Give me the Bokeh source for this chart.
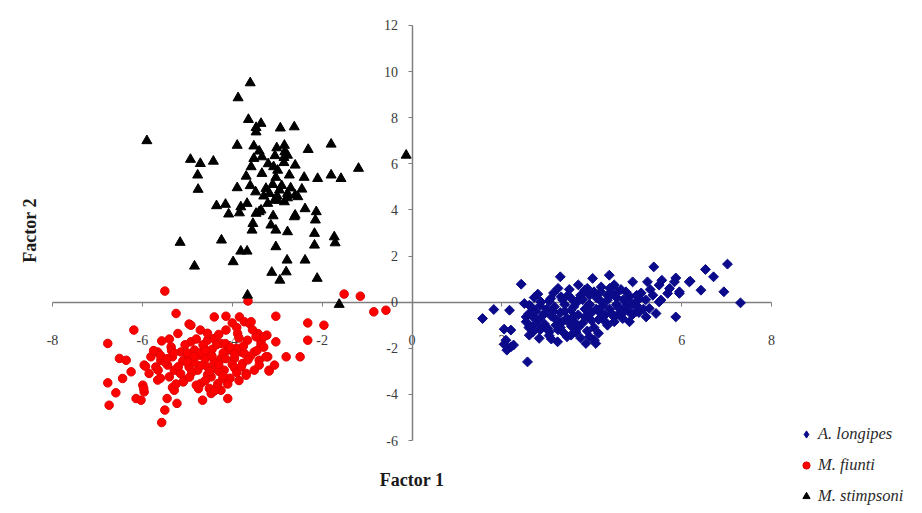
import math
from bokeh.plotting import figure
from bokeh.models import (LinearAxis, FixedTicker, Range1d, Legend, LegendItem, ColumnDataSource, Label)
from bokeh.embed import file_html
from bokeh.resources import INLINE

# ---------------- data ----------------
x_ticks = [-8, -6, -4, -2, 0, 2, 4, 6, 8]
x_tick_labels = ["-8", "-6", "-4", "-2", "0", "2", "4", "6", "8"]
y_ticks = [-6, -4, -2, 0, 2, 4, 6, 8, 10, 12]
y_tick_labels = ["-6", "-4", "-2", "0", "2", "4", "6", "8", "10", "12"]

x_title = "Factor 1"
y_title = "Factor 2"
series_names = ["A. longipes", "M. fiunti", "M. stimpsoni"]

longipes_x = [1.57, 1.82, 2.17, 2.05, 2.20, 2.09, 2.20, 2.43, 2.57, 2.50, 2.54, 2.65, 2.61, 3.30, 2.87,
              2.94, 2.91, 3.06, 3.17, 3.24, 3.32, 3.39, 3.54, 3.61, 3.69, 3.84, 3.87, 4.06, 4.02, 4.39,
              4.21, 3.91, 4.13, 4.35, 4.50, 4.58, 4.80, 4.91, 5.02, 5.21, 5.24, 5.38, 5.50, 5.54, 5.69,
              5.84, 5.95, 5.87, 6.17, 6.43, 6.53, 6.71, 6.94, 7.02, 7.31,
              2.05, 2.26, 2.11, 2.61, 2.54, 2.69, 2.83, 3.09, 3.02, 3.24, 3.47, 3.54, 4.09, 4.35,
              5.56, 5.87, 6.19, 5.36, 5.73, 5.95, 5.50, 4.76, 5.06, 5.28, 4.98, 4.69, 4.84, 5.43,
              2.75, 2.80, 3.00, 3.10, 3.20, 3.30, 3.40, 3.45, 3.55, 3.60, 3.70, 3.75, 3.80, 3.85,
              3.95, 4.00, 4.05, 4.10, 4.15, 4.25, 4.30, 4.40, 4.45, 4.55, 4.60, 4.70, 4.75, 4.85,
              4.90, 5.00, 5.10, 5.15, 3.25, 3.65, 2.70, 2.95, 3.15, 3.50, 3.90, 4.20, 4.65, 2.65,
              2.85, 3.35, 3.75, 4.35, 4.50, 3.05, 2.60, 2.72,
              2.60, 2.75, 2.85, 2.90, 3.00, 3.05, 3.15, 3.20, 3.30, 3.35, 3.40, 3.50, 3.55, 3.60,
              3.65, 3.70, 3.80, 3.85, 3.90, 3.95, 4.00, 4.10, 4.15, 4.20, 4.25, 4.30, 4.40, 4.45,
              4.55, 4.60, 4.70, 4.80, 4.90, 5.00, 5.05, 5.20, 5.30, 3.10, 3.45, 3.95, 2.80, 3.25,
              3.70, 4.05, 4.50]
longipes_y = [-0.71, -0.32, -0.35, -1.17, -1.21, -1.65, -1.94, 0.78, -2.59, -0.06, -0.64, -1.07, -1.43, 1.10, 0.01,
              -0.49, -1.07, -1.29, -0.20, -0.78, 0.23, -1.36, -0.35, -0.85, 0.09, 0.52, -1.79, -1.65, 1.03, 1.17,
              0.66, -0.64, -0.35, 0.09, -0.85, 0.45, -0.35, 0.88, 0.09, -0.64, 0.88, 1.53, 0.74, 0.09, 0.38,
              0.88, 0.45, -0.64, 0.88, 0.52, 1.42, 1.10, 0.45, 1.65, -0.03,
              -1.83, -1.86, -2.08, -0.13, -0.85, -1.29, -1.57, 0.16, -1.14, -1.72, 0.30, -1.43, -1.79, 0.30,
              0.95, 1.05, 0.91, 0.30, 0.59, 0.38, 0.01, 0.45, 0.16, -0.27, -0.42, -0.71, -0.85, -0.49,
              -0.40, -0.80, -0.30, -0.60, -1.00, -0.45, -0.10, -0.70, -1.05, -0.20, -0.55, 0.30, -0.90, -0.30,
              -0.10, -0.45, -1.10, 0.20, -0.75, -0.15, -0.55, -0.30, 0.35, -0.10, -0.50, 0.10, -0.20, 0.25,
              -0.55, -0.15, 0.40, -0.30, -1.20, -1.30, -0.65, -0.95, 0.40, 0.55, 0.60, 0.45, 0.55, -0.20,
              -1.20, -0.85, -1.55, -1.00, -0.65, -1.45, -1.10, 0.20,
              -0.50, -0.95, -0.15, -0.60, -1.15, 0.05, -0.40, -0.75, -1.10, 0.10, -0.40, -0.90, 0.15, -0.60,
              -0.05, -1.10, 0.10, -0.65, -1.25, 0.30, -0.80, -0.30, -1.35, 0.05, -0.55, -0.85, 0.60, -0.50,
              0.20, -0.25, -0.45, 0.05, -0.10, 0.30, -0.45, 0.10, 0.55, -1.60, -1.50, -1.50, 0.35, 0.60,
              0.75, 0.45, 0.75]

fiunti_x = [-5.50, -3.65, -1.51, -1.15, -0.85, -0.58, -5.25, -4.40, -4.14, -3.84, -3.73, -3.03, -3.62, -2.32, -1.96,
            -6.19, -4.96, -4.71, -5.21, -4.55, -4.14, -3.88, -3.43, -3.23, -3.03, -2.32, -6.77, -5.57, -4.92, -4.40,
            -4.25, -3.66, -3.36, -5.66, -5.36, -5.14, -4.84, -4.62, -4.47, -4.10, -3.81, -3.51, -6.51, -6.36, -5.81,
            -5.59, -5.33, -4.99, -4.73, -4.25, -3.95, -3.77, -3.40, -3.21, -2.80, -2.49, -5.96, -5.70, -5.44, -5.29,
            -4.96, -4.77, -4.55, -4.36, -4.18, -3.69, -3.51, -3.18, -6.25, -6.44, -5.85, -5.66, -5.40, -5.07, -4.70,
            -4.47, -4.32, -4.21, -6.77, -5.99, -5.33, -4.51, -4.25, -6.59, -5.96, -5.29, -4.47, -6.14, -6.03, -5.45,
            -4.66, -4.10, -6.74, -5.23, -5.50, -5.57,
            -3.58, -3.47, -3.36, -3.73, -3.25, -3.40, -3.69, -3.06, -3.18, -4.92, -5.93, -5.97, -5.09,
            -5.10, -4.85, -4.60, -4.40, -4.20, -4.00, -3.90, -4.65, -4.30, -5.50, -5.20, -4.90, -4.55, -4.30,
            -4.05, -3.95, -4.70, -5.00, -5.35, -4.15, -3.60, -3.30, -4.75, -4.35, -4.60, -5.65, -4.45, -3.85,
            -5.60, -4.10,
            -5.75, -5.45, -5.30, -5.15, -5.00, -4.95, -4.85, -4.80, -4.70, -4.60, -4.50, -4.45, -4.35, -4.30,
            -4.20, -4.15, -4.05, -3.95, -3.90, -3.80, -3.75, -3.65, -3.55, -3.45, -3.90, -4.55, -5.05, -5.60,
            -5.25, -4.80, -4.40, -3.85, -4.00, -3.30, -5.40]
fiunti_y = [0.48, 0.05, 0.35, 0.26, -0.42, -0.35, -0.49, -0.64, -0.61, -0.64, -0.85, -0.61, -0.92, -0.90, -1.00,
            -1.21, -0.95, -1.21, -1.36, -1.65, -1.21, -1.36, -1.36, -1.43, -1.72, -1.65, -1.79, -1.68, -1.72, -1.58,
            -1.79, -1.65, -1.72, -2.16, -1.94, -2.16, -2.08, -2.01, -2.30, -2.08, -2.16, -2.16, -2.44, -2.52, -2.37,
            -2.52, -2.37, -2.37, -2.30, -2.44, -2.44, -2.66, -2.52, -2.37, -2.37, -2.37, -2.73, -2.81, -2.73, -2.95,
            -2.81, -2.95, -2.81, -2.88, -2.95, -3.09, -2.95, -2.95, -3.02, -3.31, -3.09, -3.38, -3.24, -3.38, -3.53,
            -3.24, -3.53, -3.31, -3.50, -3.60, -3.70, -3.74, -3.82, -3.93, -3.89, -3.82, -3.96, -4.18, -4.25, -4.18,
            -4.25, -4.18, -4.47, -4.39, -4.68, -5.22,
            -0.85, -1.50, -1.86, -2.23, -2.37, -2.73, -3.17, -2.73, -2.99, -1.00, -2.78, -3.74, -3.46,
            -2.55, -2.60, -2.45, -2.60, -2.20, -2.70, -2.00, -1.85, -1.40, -2.60, -2.80, -3.05, -3.15, -3.00,
            -3.30, -2.85, -2.20, -2.20, -2.10, -1.80, -2.35, -1.95, -3.75, -3.70, -3.40, -2.95, -2.05, -1.55,
            -2.30, -3.55,
            -2.10, -2.45, -2.20, -3.10, -2.60, -3.25, -2.35, -1.60, -2.75, -2.10, -3.00, -2.35, -1.85, -2.70,
            -3.20, -2.45, -1.95, -2.25, -3.05, -2.80, -1.90, -2.50, -1.20, -2.10, -1.10, -1.35, -1.85, -3.30,
            -3.55, -3.60, -3.85, -3.40, -0.90, -1.50, -1.60]

stimpsoni_x = [-5.90, -3.60, -3.87, -3.64, -3.47, -3.36, -3.47, -2.93, -2.62, -3.89, -3.52, -3.01, -2.84, -2.83,
               -2.31, -1.80, -4.93, -4.71, -4.42, -4.77, -4.76, -3.52, -3.34, -2.85, -2.77, -2.60, -3.58, -3.08,
               -2.99, -3.69, -3.34, -3.03, -2.73, -2.40, -2.10, -1.80, -1.58, -1.19, -0.13, -3.89, -3.48, -3.25,
               -3.17, -2.95, -2.77, -2.54, -2.45, -2.60, -2.99, -2.77, -4.35, -4.15, -4.08, -3.81, -3.67, -3.84,
               -3.40, -3.21, -3.06, -2.84, -2.38, -2.13, -2.15, -3.54, -3.56, -3.09, -3.14, -3.03, -2.62, -2.77,
               -2.17, -5.16, -4.24, -1.73, -1.71, -2.17, -3.03, -3.81, -3.67, -4.84, -3.98, -2.78, -2.38, -3.12,
               -2.80, -2.94, -2.11, -3.66, -1.62, -3.47, -3.36, -2.60, -3.30, -3.10, -2.90, -3.60, -3.20, -2.70,
               -3.00, -2.85, -3.40, -3.05]
stimpsoni_y = [7.00, 9.51, 8.86, 7.92, 7.57, 7.75, 7.38, 7.55, 7.60, 6.80, 6.77, 6.69, 6.80, 6.52,
               6.62, 6.85, 6.19, 6.01, 6.11, 5.51, 4.89, 6.23, 6.30, 6.27, 6.37, 5.94, 5.87, 5.87,
               5.72, 5.46, 5.58, 5.41, 5.51, 5.41, 5.36, 5.51, 5.36, 5.80, 6.37, 4.96, 4.78, 4.93,
               4.71, 4.86, 4.71, 4.57, 4.90, 4.64, 4.42, 4.52, 4.18, 4.24, 3.82, 4.13, 4.28, 3.87,
               3.92, 4.28, 4.42, 4.35, 4.05, 3.92, 3.56, 3.41, 3.12, 3.74, 3.34, 3.12, 3.70, 3.05,
               2.98, 2.59, 2.69, 2.83, 2.57, 2.47, 2.40, 2.21, 2.21, 1.56, 1.75, 1.82, 1.82, 1.29,
               1.31, 0.95, 1.03, 0.30, -0.10, 3.85, 3.99, 3.77, 4.60, 5.10, 5.05, 5.05, 6.00, 4.95,
               4.60, 6.05, 6.55, 6.35]

# ---------------- figure ----------------
SERIF = "Liberation Serif"
BLUE = "#0a0a8a"
RED = "#ff0000"
BLACK = "#000000"

# the frame covers the whole canvas; the axes are bounded to [-8, 8] x [-6, 12]
p = figure(width=922, height=513,
           x_range=Range1d(-9.157, 11.360), y_range=Range1d(-9.166, 13.084),
           x_axis_location=None, y_axis_location=None,
           output_backend="svg", toolbar_location=None, min_border=0)
p.outline_line_color = None
p.xgrid.visible = False
p.ygrid.visible = False
p.background_fill_color = "white"
p.border_fill_color = "white"

AX_COL = "#7f7f7f"
LBL_COL = "#3a3a3a"

xa = LinearAxis(fixed_location=0, ticker=FixedTicker(ticks=x_ticks), bounds=(x_ticks[0], x_ticks[-1]),
                major_label_overrides={t: s for t, s in zip(x_ticks, x_tick_labels)})
xa.axis_line_color = AX_COL
xa.axis_line_width = 1.5
xa.major_tick_line_color = AX_COL
xa.major_tick_in = 0
xa.major_tick_out = 4
xa.minor_tick_line_color = None
xa.major_label_standoff = 29
xa.major_label_text_font = SERIF
xa.major_label_text_font_size = "14px"
xa.major_label_text_color = LBL_COL
xa.level = "underlay"
p.add_layout(xa, "below")

ya = LinearAxis(fixed_location=0, ticker=FixedTicker(ticks=y_ticks), bounds=(y_ticks[0], y_ticks[-1]),
                major_label_overrides={t: s for t, s in zip(y_ticks, y_tick_labels)})
ya.axis_line_color = AX_COL
ya.axis_line_width = 1.5
ya.major_tick_line_color = AX_COL
ya.major_tick_in = 0
ya.major_tick_out = 4
ya.minor_tick_line_color = None
ya.major_label_standoff = 10
ya.major_label_text_font = SERIF
ya.major_label_text_font_size = "14px"
ya.major_label_text_color = LBL_COL
ya.level = "underlay"
p.add_layout(ya, "left")

# axis titles
p.add_layout(Label(x=0, y=-7.72, text=x_title, text_align="center", text_baseline="middle",
                   text_font=SERIF, text_font_size="18px", text_font_style="bold", text_color="#1a1a1a"))
p.add_layout(Label(x=-8.49, y=3.11, text=y_title, angle=math.pi / 2, text_align="center",
                   text_baseline="middle", text_font=SERIF, text_font_size="18px",
                   text_font_style="bold", text_color="#1a1a1a"))

# series
src_a = ColumnDataSource(dict(x=longipes_x, y=longipes_y))
src_m = ColumnDataSource(dict(x=fiunti_x, y=fiunti_y))
src_s = ColumnDataSource(dict(x=stimpsoni_x, y=stimpsoni_y))

r_a = p.scatter("x", "y", source=src_a, marker="square", angle=math.pi / 4, size=7,
                fill_color=BLUE, line_color=BLUE, line_width=1)
r_m = p.scatter("x", "y", source=src_m, marker="circle", size=8.5,
                fill_color=RED, line_color="#e00000", line_width=1)
r_s = p.scatter("x", "y", source=src_s, marker="triangle", size=10,
                fill_color=BLACK, line_color=BLACK, line_width=1)

# legend-only glyph for the diamond (legend glyphs are drawn unrotated); its one row is NaN,
# so it draws nothing in the plot
legend_src = ColumnDataSource(dict(x=[float("nan")], y=[float("nan")]))
r_a_leg = p.scatter("x", "y", source=legend_src, marker="diamond", size=10,
                    fill_color=BLUE, line_color=BLUE, line_width=1)

legend = Legend(items=[LegendItem(label=series_names[0], renderers=[r_a_leg]),
                       LegendItem(label=series_names[1], renderers=[r_m]),
                       LegendItem(label=series_names[2], renderers=[r_s])],
                location=(797, 6))
legend.background_fill_alpha = 0
legend.border_line_color = None
legend.padding = 0
legend.margin = 0
legend.spacing = 9
legend.glyph_width = 18
legend.glyph_height = 18
legend.label_height = 22
legend.label_standoff = 3
legend.label_text_font = SERIF
legend.label_text_font_style = "italic"
legend.label_text_font_size = "16.5px"
legend.label_text_color = "#2a2a2a"
p.add_layout(legend, "center")

open("out.html", "w").write(file_html(p, INLINE))
